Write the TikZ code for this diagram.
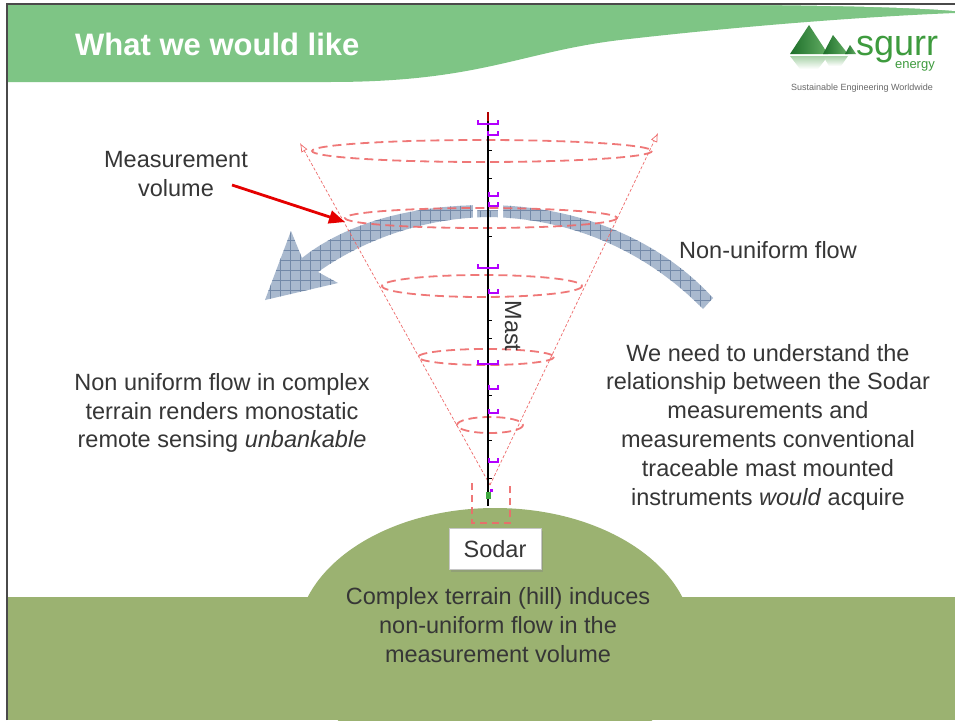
\documentclass[tikz,border=0pt]{standalone}
\usepackage{fontspec}
\setmainfont{Liberation Sans}
\usetikzlibrary{positioning,arrows.meta,patterns.meta,shadows}
\definecolor{ink}{HTML}{363636}
\definecolor{headgreen}{HTML}{7EC585}
\definecolor{hillgreen}{HTML}{9BB271}
\definecolor{flowfill}{HTML}{A9B9CE}
\definecolor{flowline}{HTML}{7389A8}
\definecolor{volred}{HTML}{EE6A6A}
\definecolor{brkpurple}{HTML}{B300FF}
\definecolor{logogreen}{HTML}{3E9B3E}
\definecolor{logodark}{HTML}{1D6E2A}

\begin{document}
\begin{tikzpicture}[x=1pt,y=-1pt,
  txt/.style={font=\fontsize{23.5}{28.8}\selectfont,text=ink,align=center,inner sep=0pt},
  vol/.style={draw=volred,line width=1.8pt,dash pattern=on 9pt off 5pt,opacity=.9},
  cone/.style={draw=volred,line width=.7pt,densely dashed,-{Latex[open,length=9pt,width=7pt]}},
  brk/.style={draw=brkpurple,line width=1.4pt},
  pointer/.style={draw=red!90!black,line width=2.8pt,-{Triangle[length=16pt,width=13pt]}},
  peak/.style={left color=logodark,right color=logogreen!80},
  mirror/.style={top color=logogreen!45,bottom color=white}]
\useasboundingbox[fill=white] (0,0) rectangle (955,720);

\fill[headgreen] (7,5) -- (955,5) -- (955,13) .. controls (880,16) and (760,24) .. (620,40)
  .. controls (520,52) and (480,82) .. (330,82) -- (7,82) -- cycle;
\fill[white] (760,5) .. controls (860,6) and (920,8) .. (955,11) -- (955,5) -- cycle;
\node[anchor=west,text=white,font=\fontsize{31}{31}\bfseries\selectfont,inner sep=0pt] (title) at (75,44) {What we would like};

\shade[peak] (790,54) -- (809,25) -- (828,54) -- cycle;
\shade[peak] (823,54) -- (833,35) -- (848,54) -- cycle;
\shade[peak] (845,54) -- (850,45) -- (856,54) -- cycle;
\shade[mirror] (790,56) -- (828,56) -- (818,69) -- (800,69) -- cycle;
\shade[mirror] (823,56) -- (848,56) -- (841,66) -- (829,66) -- cycle;
\node[anchor=base west,text=logogreen,font=\fontsize{36}{36}\selectfont,inner sep=0pt,text depth=0pt] (brand) at (856,55) {sgurr};
\node[anchor=base east,text=logogreen,font=\fontsize{13}{13}\selectfont,inner sep=0pt] (brandsub) at (935,68) {energy};
\node[text=ink!75,font=\fontsize{9}{9}\selectfont,inner sep=0pt] (tagline) at (862,88) {Sustainable Engineering Worldwide};

\fill[hillgreen] (495,640) ellipse [x radius=198, y radius=132];
\fill[hillgreen] (7,597) rectangle (955,720);

\path[fill=flowfill,
  postaction={pattern={Lines[angle=0,distance=10pt,line width=.7pt]},pattern color=flowline},
  postaction={pattern={Lines[angle=90,distance=10pt,line width=.7pt]},pattern color=flowline}]
  (713,298) .. controls (660,240) and (580,206) .. (488,205) .. controls (400,205) and (340,228) .. (302,258)
  -- (291,231) -- (265,300) -- (338,283) -- (318,272)
  .. controls (360,242) and (420,218) .. (488,217) .. controls (570,218) and (645,250) .. (703,309) -- cycle;
\fill[white] (473,198) -- (473,224) -- (477,224) -- (477,210) -- (498,210) -- (498,224) -- (503,224) -- (503,198) -- cycle;

\coordinate (apex) at (490,485);
\coordinate (coneL) at (300,143);
\coordinate (coneR) at (658,133);
\draw[cone] (apex) -- (coneL);
\draw[cone] (apex) -- (coneR);
\foreach \cx/\cy/\rx/\ry in {482/151/170/11,481/218/136/10,482/286/100/11,486/357/68/8,490/425/33/8}
  \draw[vol] (\cx,\cy) ellipse [x radius=\rx, y radius=\ry];
\draw[vol,line width=1.4pt,dash pattern=on 7pt off 5pt] (472,483) -- (472,523) -- (510,523) -- (510,483);

\draw[line width=2.2pt] (488,121) -- (488,506);
\draw[red!70!black,line width=2.2pt] (488,112) -- (488,121);
\foreach \y in {150,178,236,320,338,395,440,478}
  \draw[line width=1pt] (488,\y) -- (492,\y);
\foreach \y/\s in {124/478,135/488,196/489,206/489,268/478,293/489,364/478,389/489,413/489,462/489}
  \draw[brk] (\s,\y-4) -- (\s,\y) -- (498,\y) -- (498,\y-4);
\fill[brkpurple] (490,489) rectangle (493,492);
\fill[green!55!black!75] (486,492) rectangle (491,499);

\node[txt] (mvol) at (176,174) {Measurement\\volume};
\coordinate (mvolend) at (232,185);
\coordinate (volpt) at (345,222);
\draw[pointer] (mvolend) -- (volpt);
\node[txt] (nuflow) at (768,250) {Non-uniform flow};
\node[txt,rotate=-90] (mast) at (513,326) {Mast};
\node[txt] (leftnote) at (222,413) {Non uniform flow in complex\\terrain renders monostatic\\remote sensing \textit{unbankable}};
\node[txt] (rightnote) at (768,427) {We need to understand the\\relationship between the Sodar\\measurements and\\measurements conventional\\traceable mast mounted\\instruments \textit{would} acquire};
\node[txt,draw=gray!45,fill=white,minimum width=92pt,minimum height=41pt,
  drop shadow={shadow xshift=2pt,shadow yshift=-2pt,opacity=.35}] (sodar) at (495,549) {Sodar};
\node[txt] (hillnote) at (498,625) {Complex terrain (hill) induces\\non-uniform flow in the\\measurement volume};

\draw[ink!90,line width=2.5pt] (7,720) -- (7,4) -- (955,4);
\end{tikzpicture}
\end{document}
